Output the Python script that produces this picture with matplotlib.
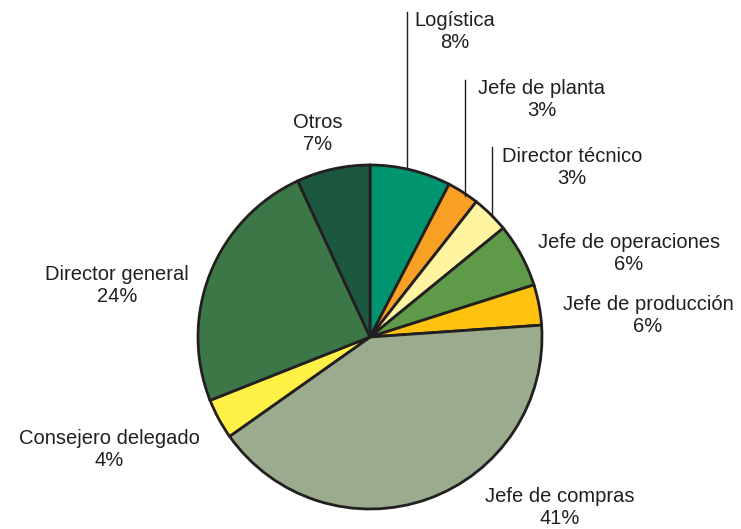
import matplotlib.pyplot as plt

# slices clockwise from 12 o'clock
categories = ['Logística', 'Jefe de planta', 'Director técnico', 'Jefe de operaciones',
              'Jefe de producción', 'Jefe de compras', 'Consejero delegado',
              'Director general', 'Otros']
sizes = [7.6, 3.0, 3.5, 6.0, 3.8, 41.3, 3.8, 24.1, 6.9]
pct_labels = ['8%', '3%', '3%', '6%', '6%', '41%', '4%', '24%', '7%']
colors = ['#00956E', '#F7A024', '#FFF5A0', '#5F9A48', '#FFC20F',
          '#9BAC8E', '#FFF145', '#3C7847', '#1C5740']

# label centres in pixel coords (x, y from top)
label_pos = [(455, 32), (542, 100), (572, 167), (629, 254), (648, 315),
             (560, 507), (109, 449), (117, 285), (318, 134)]
# leader lines (x, y_top, y_bottom) in pixel coords
leaders = [(407, 12, 167), (465, 80, 196), (492, 147, 217)]

W, H = 741, 529
fig = plt.figure(figsize=(W / 100, H / 100), dpi=100)
ax = fig.add_axes([0, 0, 1, 1])

ax.pie(sizes, colors=colors, startangle=90, counterclock=False,
       center=(370, H - 337), radius=172, frame=True,
       wedgeprops=dict(edgecolor='#231F20', linewidth=2.0))
ax.set_xlim(0, W)
ax.set_ylim(0, H)
ax.set_aspect('equal')
ax.axis('off')

for (x, y0, y1) in leaders:
    ax.plot([x, x], [H - y0, H - y1], color='#231F20', lw=1.0)

for cat, pct, (x, y) in zip(categories, pct_labels, label_pos):
    ax.text(x, H - y, cat + '\n' + pct, ha='center', va='center',
            fontsize=14.5, family='Liberation Sans', color='#231F20',
            linespacing=1.2)

fig.savefig('out.png', dpi=100)
